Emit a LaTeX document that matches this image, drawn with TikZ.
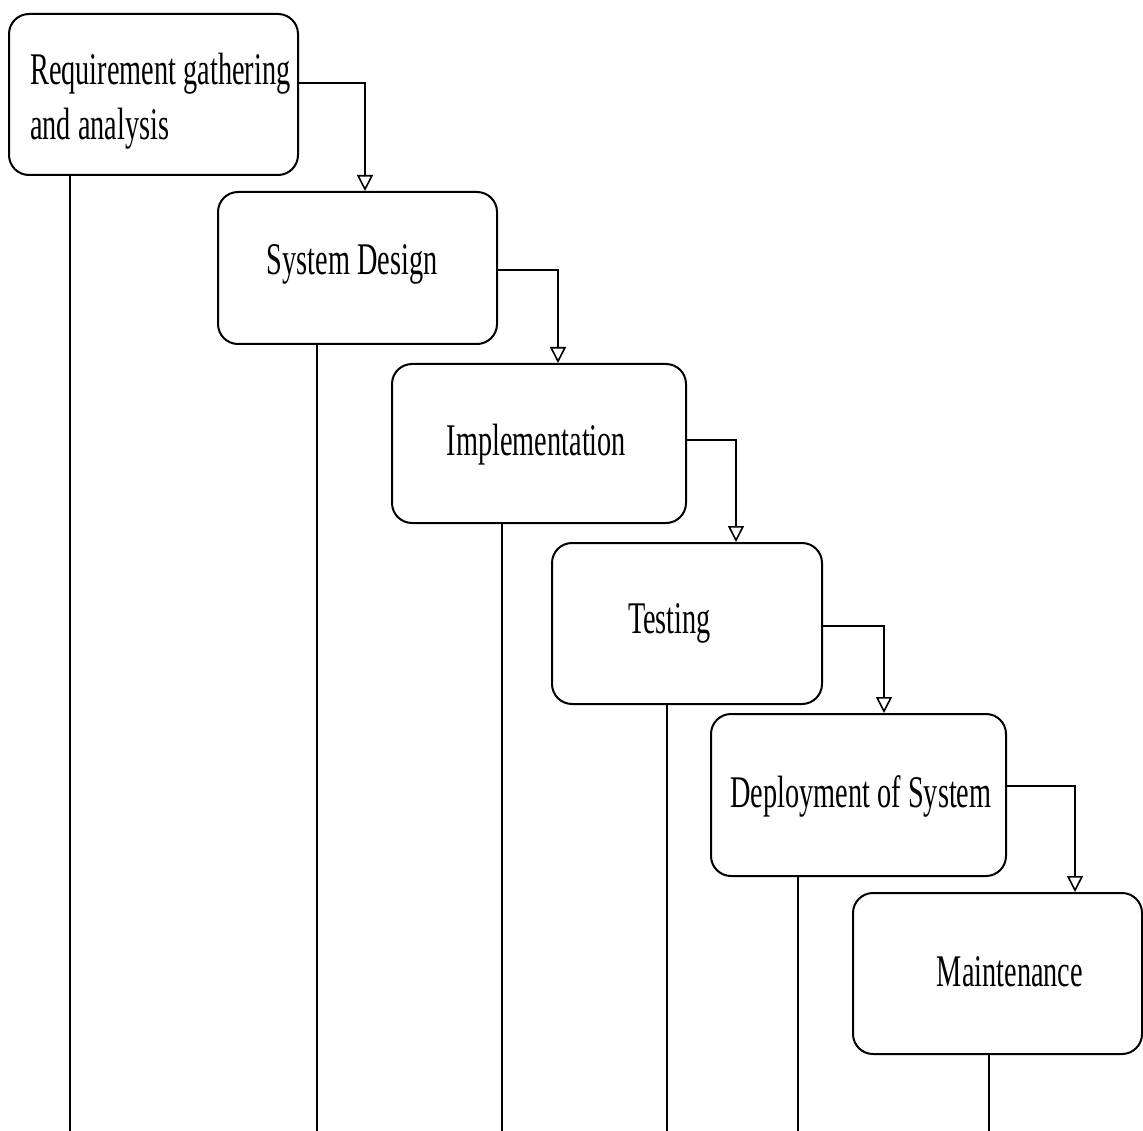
\documentclass[tikz,border=0pt]{standalone}
\usepackage{fontspec}
\setmainfont{Liberation Serif}
\usetikzlibrary{arrows.meta,calc}
\newcommand{\vstretch}[1]{\scalebox{1}[1.6]{#1}}
\begin{document}
\begin{tikzpicture}[x=1pt,y=-1pt,
  box/.style={draw=black, line width=2pt, rounded corners=20pt, fill=white, inner sep=0pt},
  txt/.style={inner sep=0pt, anchor=base, font=\fontsize{28.3pt}{33pt}\selectfont},
  arr/.style={line width=2pt, -{Triangle[open, width=16pt, length=16pt, line width=1.6pt]}},
  drop/.style={line width=2pt}]
\useasboundingbox (0,0) rectangle (1143,1131);
\fill[white] (0,0) rectangle (1143,1131);
% boxes
\node[box, minimum width=289pt, minimum height=161pt] (b1) at (153.5,94.5) {};
\node[box, minimum width=279pt, minimum height=152pt] (b2) at (357.5,268) {};
\node[box, minimum width=294pt, minimum height=159pt] (b3) at (539,443.5) {};
\node[box, minimum width=270pt, minimum height=161pt] (b4) at (687,623.5) {};
\node[box, minimum width=295pt, minimum height=162pt] (b5) at (858.5,795) {};
\node[box, minimum width=289pt, minimum height=161pt] (b6) at (997.5,973.5) {};
% texts
\node[txt, anchor=base west] (t1) at (30,85) {\vstretch{\begin{tabular}[t]{@{}l@{}}Requirement gathering\\[1pt] and analysis\end{tabular}}};
\node[txt] (t2) at (352,275) {\vstretch{System Design}};
\node[txt] (t3) at (536.5,455) {\vstretch{Implementation}};
\node[txt] (t4) at (669.5,633) {\vstretch{Testing}};
\node[txt] (t5) at (861,807) {\vstretch{Deployment of System}};
\node[txt] (t6) at (1010,986) {\vstretch{Maintenance}};
% arrows
\draw[arr] ([yshift=11.5pt]b1.east) -| ($(b2.north)+(7.5,0)$);
\draw[arr] ([yshift=-2pt]b2.east) -| ($(b3.north)+(19,0)$);
\draw[arr] ([yshift=3.5pt]b3.east) -| ($(b4.north)+(49,0)$);
\draw[arr] ([yshift=-2pt]b4.east) -| ($(b5.north)+(25.5,0)$);
\draw[arr] ([yshift=9pt]b5.east) -| ($(b6.north)+(77.5,0)$);
% drop lines
\coordinate (e1) at (70,1131);
\coordinate (e2) at (317,1131);
\coordinate (e3) at (502,1131);
\coordinate (e4) at (667,1131);
\coordinate (e5) at (798,1131);
\coordinate (e6) at (989,1131);
\draw[drop] (b1.south -| e1) -- (e1);
\draw[drop] (b2.south -| e2) -- (e2);
\draw[drop] (b3.south -| e3) -- (e3);
\draw[drop] (b4.south -| e4) -- (e4);
\draw[drop] (b5.south -| e5) -- (e5);
\draw[drop] (b6.south -| e6) -- (e6);
\end{tikzpicture}
\end{document}
